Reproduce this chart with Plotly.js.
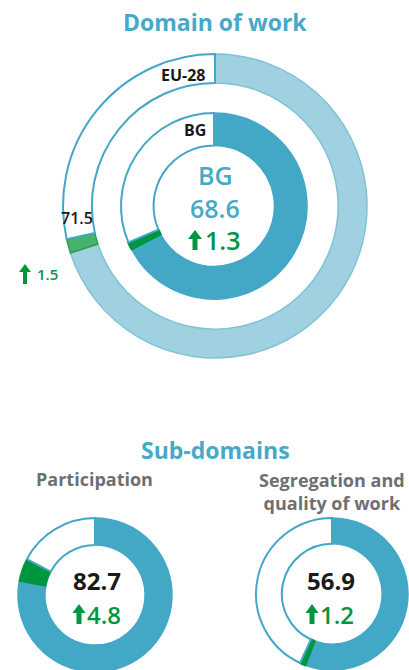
<!DOCTYPE html>
<html>
<head>
<meta charset="utf-8">
<script src="https://cdn.plot.ly/plotly-3.0.1.min.js"></script>
<style>
html,body{margin:0;padding:0;overflow:hidden;background:#fff;}
#chart{width:409px;height:700px;}
</style>
</head>
<body>
<div id="chart"></div>
<script>
// ---- data ----
const ringLabels = ['EU-28', 'BG'];
const domainScores = [71.5, 68.6];
const domainChanges = [1.5, 1.3];
const subdomainNames = ['Participation', 'Segregation and<br>quality of work'];
const subdomainScores = [82.7, 56.9];
const subdomainChanges = [4.8, 1.2];
const countryName = 'BG';
const mainTitle = 'Domain of work';
const subTitle = 'Sub-domains';

// ---- layout helpers ----
const W = 409, H = 700;
const BLUE = '#43a7c6', LIGHT = '#9fd1e0', GREEN = '#009640', GREY = '#6f6f6f';
const FONT = 'Open Sans, Noto Sans, sans-serif';
function dom(cx, cy, r) {
  return {x: [(cx - r) / W, (cx + r) / W], y: [1 - (cy + r) / H, 1 - (cy - r) / H]};
}
function px(x) { return x / W; }
function py(y) { return 1 - y / H; }

function ring(score, change, fillColor, greenColor, lineColors, cx, cy, r, hole, greenLine) {
  return {
    type: 'pie',
    values: [score - change, change, 100 - score],
    labels: ['base', 'change', 'rest'],
    sort: false,
    direction: 'clockwise',
    rotation: 0,
    hole: hole,
    textinfo: 'none',
    hoverinfo: 'none',
    showlegend: false,
    domain: dom(cx, cy, r),
    marker: {colors: [fillColor, greenColor, '#ffffff'], line: {color: lineColors, width: [1.5, greenLine, 2]}}
  };
}

const data = [
  ring(domainScores[0], domainChanges[0], LIGHT, '#45b26f', ['#7fc2d6', '#2b9e54', BLUE], 215, 206, 152, 0.81, 1.5),
  ring(domainScores[1], domainChanges[1], BLUE, GREEN, [BLUE, GREEN, BLUE], 214, 206, 93, 0.65, 2.5),
  ring(subdomainScores[0], subdomainChanges[0], BLUE, GREEN, [BLUE, GREEN, BLUE], 95, 595, 77, 0.65, 1.5),
  ring(subdomainScores[1], subdomainChanges[1], BLUE, GREEN, [BLUE, GREEN, BLUE], 332, 594, 76, 0.66, 2.5)
];

function arrow(cx, top, bottom, headW, headH, shaftW) {
  const p = [
    [cx, top], [cx + headW / 2, top + headH], [cx + shaftW / 2, top + headH],
    [cx + shaftW / 2, bottom], [cx - shaftW / 2, bottom], [cx - shaftW / 2, top + headH],
    [cx - headW / 2, top + headH]
  ];
  return {
    type: 'path', xref: 'paper', yref: 'paper',
    path: 'M ' + p.map(q => px(q[0]) + ',' + py(q[1])).join(' L ') + ' Z',
    fillcolor: GREEN, line: {width: 0}
  };
}

function ann(text, x, y, size, color, weight, xanchor) {
  return {text: text, x: px(x), y: py(y), xref: 'paper', yref: 'paper', showarrow: false,
    xanchor: xanchor || 'center', yanchor: 'middle',
    font: {family: FONT, size: size, color: color, weight: weight || 700}};
}

const annotations = [
  ann(mainTitle, 215, 22, 23, '#45a9c9', 700),
  ann(ringLabels[0], 208, 75, 16, '#1a1a1a', 700, 'right'),
  ann(ringLabels[1], 208, 130, 16, '#1a1a1a', 700, 'right'),
  ann(countryName, 215, 175, 25, '#45a9c9', 600),
  ann(domainScores[1].toFixed(1), 215, 208, 25, '#45a9c9', 600),
  ann(domainChanges[1].toFixed(1), 203, 240, 25, GREEN, 600, 'left'),
  ann(domainScores[0].toFixed(1), 77, 218, 16, '#1a1a1a', 600),
  ann(domainChanges[0].toFixed(1), 35, 274, 15, GREEN, 600, 'left'),
  ann(subTitle, 215, 450, 23, '#45a9c9', 700),
  ann(subdomainNames[0], 94, 479, 18, GREY, 700),
  ann(subdomainNames[1], 332, 491, 18, GREY, 700),
  ann(subdomainScores[0].toFixed(1), 97, 580, 24, '#1a1a1a', 700),
  ann(subdomainChanges[0].toFixed(1), 85, 614, 24, GREEN, 600, 'left'),
  ann(subdomainScores[1].toFixed(1), 331, 580, 24, '#1a1a1a', 700),
  ann(subdomainChanges[1].toFixed(1), 318, 614, 24, GREEN, 600, 'left')
];

const shapes = [
  arrow(195, 230, 250, 14, 9, 5),
  arrow(25, 264, 284, 12, 8, 4),
  arrow(79, 604, 624, 13, 9, 5),
  arrow(312, 604, 624, 13, 9, 5)
];

Plotly.newPlot('chart', data, {
  width: W, height: H,
  margin: {l: 0, r: 0, t: 0, b: 0},
  paper_bgcolor: '#ffffff',
  annotations: annotations,
  shapes: shapes
}, {staticPlot: true});
</script>
</body>
</html>
